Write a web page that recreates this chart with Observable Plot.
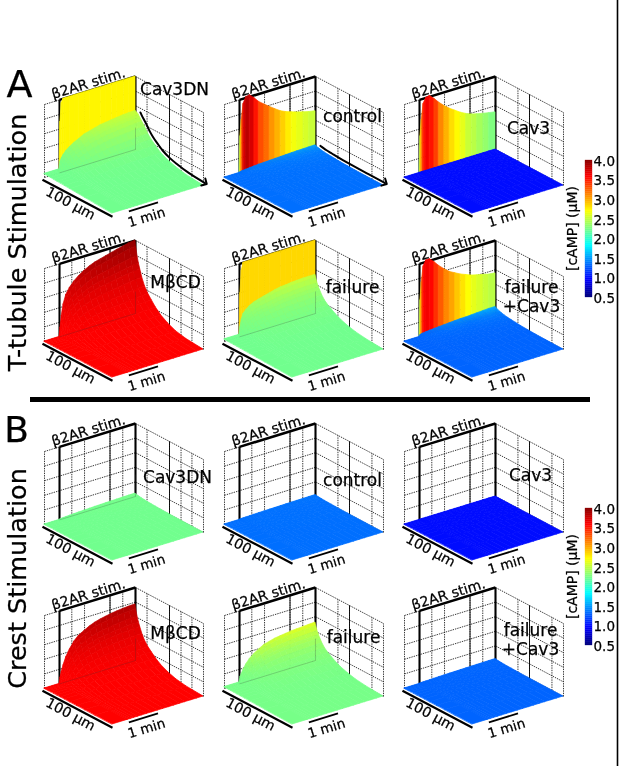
<!DOCTYPE html>
<html><head><meta charset="utf-8">
<style>html,body{margin:0;padding:0;background:#fff}svg{display:block;filter:blur(.35px)}</style>
<script src="https://cdn.jsdelivr.net/npm/d3@7"></script>
<script src="https://cdn.jsdelivr.net/npm/@observablehq/plot@0.6"></script>
</head><body><div id="chart"></div>
<script>
// ---- sampled axes of every surface (fractions of the box) ----
const tGrid = [0,.165,.175,.19,.21,.24,.28,.33,.38,.44,.5,.56,.62,.68,.74,.8,.87,.93,1];
const dGrid = [0,.01,.03,.05,.07,.1,.14,.19,.24,.3,.38,.48,.6,.75,1];
const decayNarrow = [1,.92,.8,.71,.64,.54,.44,.36,.3,.23,.16,.1,.05,.02,0];
const decayWide   = [1,.99,.97,.94,.88,.8,.7,.55,.44,.34,.22,.13,.07,.02,0];

// ---- wall height over time (t-tubule stimulation) ----
const wallFlatDN   = [0,0,.7,.95,1,1,1,1,1,1,1,1,1,1,1,1,1,1,1];
const wallFlatFail = [0,0,.6,.9,1,1,1,1,1,1,1,1,1,1,1,1,1,1,1];
const wallControl  = [0,0,.5,.72,.93,1.01,1.02,.96,.89,.83,.775,.72,.67,.635,.61,.585,.56,.54,.525];
const wallCav3     = [0,0,.5,.72,.93,1,1.01,.95,.88,.81,.75,.7,.65,.61,.58,.56,.54,.525,.51];
const wallFailCav3 = [0,0,.5,.74,.95,1.02,1.02,.96,.89,.82,.76,.72,.68,.65,.62,.6,.58,.56,.55];

// ---- wall colour ([cAMP], µM) over time ----
const cWallDN      = [2.72,2.72,2.72,2.72,2.72,2.72,2.72,2.72,2.72,2.72,2.72,2.72,2.72,2.72,2.72,2.72,2.72,2.72,2.72];
const cWallFail    = [2.82,2.82,2.82,2.82,2.82,2.82,2.82,2.82,2.82,2.82,2.82,2.82,2.82,2.82,2.82,2.82,2.82,2.82,2.82];
const cWallControl = [1.8,1.8,2.2,2.8,3.3,3.7,3.8,3.7,3.5,3.3,3.2,3.05,2.95,2.85,2.75,2.65,2.6,2.55,2.5];
const cWallCav3    = [1.8,1.8,2.2,2.8,3.2,3.5,3.6,3.5,3.35,3.1,2.95,2.8,2.7,2.6,2.5,2.45,2.38,2.32,2.25];
const cWallFailCav3= [1.8,1.8,2.2,2.8,3.3,3.55,3.6,3.55,3.4,3.25,3.1,3,2.88,2.78,2.68,2.6,2.55,2.5,2.45];

// ---- surface ridge height next to the source, over time ----
const ridgeDN_A    = [0,0,.1,.14,.18,.22,.26,.3,.33,.37,.39,.41,.43,.44,.45,.46,.47,.475,.48];
const ridgeCtrl_A  = [0,0,.005,.01,.012,.015,.02,.025,.03,.033,.036,.04,.043,.046,.05,.052,.054,.056,.058];
const ridgeZero    = [0,0,0,0,0,0,0,0,0,0,0,0,0,0,0,0,0,0,0];
const ridgeMBCD_A  = [0,0,.12,.28,.43,.55,.63,.7,.75,.8,.84,.87,.89,.91,.93,.95,.97,.99,1];
const ridgeFail_A  = [0,0,.1,.2,.27,.31,.35,.38,.4,.42,.44,.46,.475,.48,.49,.495,.5,.5,.5];
const ridgeFC_A    = [0,0,.02,.025,.03,.035,.04,.045,.05,.055,.06,.065,.07,.07,.075,.08,.085,.09,.09];
const ridgeDN_B    = [0,0,.003,.005,.008,.01,.013,.016,.019,.022,.025,.028,.03,.032,.034,.036,.038,.039,.04];
const ridgeSmall_B = [0,0,.002,.003,.004,.005,.006,.008,.01,.011,.012,.013,.014,.015,.016,.017,.018,.019,.02];
const ridgeMBCD_B  = [0,0,.08,.16,.24,.34,.43,.52,.58,.62,.66,.69,.71,.725,.74,.75,.76,.765,.77];
const ridgeFail_B  = [0,0,.07,.11,.16,.22,.28,.33,.37,.41,.43,.45,.46,.47,.48,.485,.49,.495,.5];

// ---- panels ----
const panelRows = [0,0,0,1,1,1,2,2,2,3,3,3];
const panelCols = [0,1,2,0,1,2,0,1,2,0,1,2];
const panelWalls  = [wallFlatDN,wallControl,wallCav3,null,wallFlatFail,wallFailCav3,null,null,null,null,null,null];
const panelCWalls = [cWallDN,cWallControl,cWallCav3,null,cWallFail,cWallFailCav3,null,null,null,null,null,null];
const panelRidges = [ridgeDN_A,ridgeCtrl_A,ridgeZero,ridgeMBCD_A,ridgeFail_A,ridgeFC_A,ridgeDN_B,ridgeSmall_B,ridgeZero,ridgeMBCD_B,ridgeFail_B,ridgeSmall_B];
const panelDecays = [decayWide,decayNarrow,decayNarrow,decayNarrow,decayNarrow,decayNarrow,decayNarrow,decayNarrow,decayNarrow,decayNarrow,decayNarrow,decayNarrow];
const panelFloorC = [2.2,1.32,.98,3.56,2.2,1.28,2.2,1.32,.98,3.56,2.22,1.28];
const panelRidgeC = [2.5,1.5,.98,3.95,2.5,1.55,2.22,1.34,.98,3.85,2.6,1.3];
const panelBase   = [.05,0,0,0,.03,0,0,0,0,0,.02,0];
const panelArrow  = [true,true,false,false,false,false,false,false,false,false,false,false];

// ---- texts ----
const panelNames = [
  ["Cav3DN"],["control"],["Cav3"],["MβCD"],["failure"],["failure","+Cav3"],
  ["Cav3DN"],["control"],["Cav3"],["MβCD"],["failure"],["failure","+Cav3"]];
const nameX = [174,352,528,175,352,531,177,352,530,175,353,530];
const nameY = [89,116,128,282,287,287,477,480,475,633,637,630];
const legendTicks = [4.0,3.5,3.0,2.5,2.0,1.5,1.0,0.5];
const legendSteps = d3.range(0.5,4.0,0.05);

// ---- layout ----
const W = 624, H = 766;
const rowF = [213,377,560,724], colF = [112,292,472];
const TX = 91, TY = 28, DX = 68, DY = 36, HZ = 73;
const legendTop = [160,508], legendLen = 137;
const wallT = [0,.165,.3,.44,.72,.86,1];
const wallD = [[.17,.5,.67,.83,1],[.33,.5,.83,1],[.33,.5,.83,1]];
const levels = [0,.2,.4,.6,.8,1];

// jet-like colour scale of the legend
const jetDomain = [.5,.9375,1.8125,2.6875,3.5625,4];
const jetRange  = ["#000080","#0000ff","#00ffff","#ffff00","#ff0000","#800000"];

const proj = (r,c,t,d,h) => ({x: colF[c] + (d-1)*DX + t*TX, y: rowF[r] + (d-1)*DY - t*TY - h*HZ});

const cells=[], gridSeg=[], darkSeg=[], ghostSeg=[], arrows=[];
const link = (arr,a,b,extra={}) => arr.push({x1:a.x,y1:a.y,x2:b.x,y2:b.y,...extra});

panelRows.forEach((r,k)=>{
  const c = panelCols[k], P=(t,d,h)=>proj(r,c,t,d,h);
  for (const t of wallT) link(gridSeg,P(t,0,0),P(t,0,1));
  for (const u of wallD[c]) link(gridSeg,P(1,u,0),P(1,u,1));
  for (const h of levels){ link(gridSeg,P(0,0,h),P(1,0,h)); link(gridSeg,P(1,0,h),P(1,1,h)); }
  link(darkSeg,P(.72,0,0),P(.72,0,1),{w:.9});
  link(darkSeg,P(1,.5,0),P(1,.5,1),{w:.9});
  // stim frame
  link(darkSeg,P(.165,0,1),P(1,0,1),{w:2.6});
  link(darkSeg,P(.165,0,0),P(.165,0,1),{w:2.1});
  link(darkSeg,P(1,0,0),P(1,0,1),{w:2.1});
  // axis bars
  link(darkSeg,P(-.0,-.03,-.045),P(0,1,-.045),{w:2.2});
  link(darkSeg,P(.18,1,-.04),P(.5,1,-.04),{w:1.8});

  const wall = panelWalls[k], cw = panelCWalls[k];
  if (wall) for (let i=0;i<tGrid.length-1;i++){
    if (wall[i]===0 && wall[i+1]===0) continue;
    const id=`w${k}-${i}`, a0=P(tGrid[i],0,0), a1=P(tGrid[i],0,wall[i]), b0=P(tGrid[i+1],0,0), b1=P(tGrid[i+1],0,wall[i+1]);
    cells.push({id,c:cw[i+1],x1:a0.x,y1:a0.y,x2:a1.x,y2:a1.y},{id,c:cw[i+1],x1:b0.x,y1:b0.y,x2:b1.x,y2:b1.y});
  }
  const ridge = panelRidges[k], decay = panelDecays[k], base = panelBase[k];
  const maxR = d3.max(ridge)||1, fc=panelFloorC[k], rc=panelRidgeC[k];
  const hgt=(i,j)=> base*(1-dGrid[j]) + ridge[i]*decay[j];
  for (let j=0;j<dGrid.length-1;j++) for (let i=tGrid.length-2;i>=0;i--){
    const id=`s${k}-${i}-${j}`;
    const frac = (ridge[i+1]/maxR)*(decay[j]+decay[j+1])/2;
    const col = fc + (rc-fc)*frac*frac;
    const a=P(tGrid[i],dGrid[j],hgt(i,j)), b=P(tGrid[i],dGrid[j+1],hgt(i,j+1));
    const e=P(tGrid[i+1],dGrid[j],hgt(i+1,j)), f=P(tGrid[i+1],dGrid[j+1],hgt(i+1,j+1));
    cells.push({id,c:col,x1:a.x,y1:a.y,x2:b.x,y2:b.y},{id,c:col,x1:e.x,y1:e.y,x2:f.x,y2:f.y});
  }
  if (fc>=2){
    link(ghostSeg,P(.165,0,0),P(1,0,0));
    link(ghostSeg,P(1,0,0),P(1,0,.3));
  }
  if (panelArrow[k]){
    dGrid.forEach((d,j)=>{ if(j>=3){ const q=P(1,d,hgt(tGrid.length-1,j)+.02); arrows.push({id:k,x:q.x+1.5,y:q.y-1}); }});
  }
});

const stimT=[], hundred=[], oneMin=[], nameT=[];
panelRows.forEach((r,k)=>{
  const fx=colF[panelCols[k]], fy=rowF[r];
  stimT.push({x:fx-24,y:fy-130});
  hundred.push({x:fx-42,y:fy-10});
  oneMin.push({x:fx+34,y:fy+4});
  panelNames[k].forEach((s,i)=>nameT.push({s,x:nameX[k],y:nameY[k]+i*19.5}));
});
const cbar = legendTop.flatMap(top=>legendSteps.map(v=>({v,top,y1:top+(4-v-.05)/3.5*legendLen,y2:top+(4-v)/3.5*legendLen})));
const cticks = legendTop.flatMap(top=>legendTicks.map(v=>({v,top,s:v.toFixed(1),y:top+1+(4-v)/3.5*legendLen})));
const font="DejaVu Sans";
const ink={fill:"#000",stroke:"#000",strokeWidth:.25};

const chart = Plot.plot({
  width:W,height:H,margin:0,
  style:{background:"#fff",fontFamily:font},
  x:{domain:[0,W],range:[0,W],axis:null},
  y:{domain:[0,H],range:[0,H],axis:null},
  color:{type:"linear",domain:jetDomain,range:jetRange,interpolate:"rgb",clamp:true},
  marks:[
    Plot.link(gridSeg,{x1:"x1",y1:"y1",x2:"x2",y2:"y2",stroke:"#222",strokeWidth:.9,strokeDasharray:"1.4,1"}),
    Plot.link(darkSeg,{x1:"x1",y1:"y1",x2:"x2",y2:"y2",stroke:"#000",strokeWidth:"w"}),
    Plot.area(cells,{x1:"x1",y1:"y1",x2:"x2",y2:"y2",z:"id",fill:"c",stroke:"c",strokeWidth:.7}),
    Plot.link(ghostSeg,{x1:"x1",y1:"y1",x2:"x2",y2:"y2",stroke:"#333",strokeOpacity:.22,strokeWidth:1}),
    Plot.line(arrows,{x:"x",y:"y",z:"id",stroke:"#000",strokeWidth:2,markerEnd:"arrow",curve:"monotone-x"}),
    Plot.text(stimT,{x:"x",y:"y",text:()=>"β2AR stim.",rotate:-17,fontSize:14,...ink}),
    Plot.text(hundred,{x:"x",y:"y",text:()=>"100 µm",rotate:28,fontSize:14,...ink}),
    Plot.text(oneMin,{x:"x",y:"y",text:()=>"1 min",rotate:-17,fontSize:13.5,...ink}),
    Plot.text(nameT,{x:"x",y:"y",text:"s",fontSize:17,...ink}),
    Plot.text(["A"],{x:()=>19,y:()=>84,text:d=>d,fontSize:38,...ink}),
    Plot.text(["B"],{x:()=>16,y:()=>430,text:d=>d,fontSize:36,...ink}),
    Plot.text(["T-tubule Stimulation"],{x:()=>17,y:()=>242,text:d=>d,rotate:-90,fontSize:25.5,...ink}),
    Plot.text(["Crest Stimulation"],{x:()=>17,y:()=>578,text:d=>d,rotate:-90,fontSize:25.5,...ink}),
    Plot.rect(cbar,{x1:()=>585,x2:()=>592,y1:"y1",y2:"y2",fill:"v",stroke:"v",strokeWidth:.3}),
    Plot.text(cticks,{x:()=>593,y:"y",text:"s",textAnchor:"start",fontSize:13.5,...ink}),
    Plot.text(legendTop,{x:()=>572,y:t=>t+68,text:()=>"[cAMP] (µM)",rotate:-90,fontSize:14,...ink}),
    Plot.ruleY([399],{x1:()=>30,x2:()=>590,stroke:"#000",strokeWidth:5}),
    Plot.ruleX([617],{y1:()=>0,y2:()=>H,stroke:"#000",strokeWidth:1.6})
  ]
});
document.getElementById("chart").append(chart);
</script></body></html>
